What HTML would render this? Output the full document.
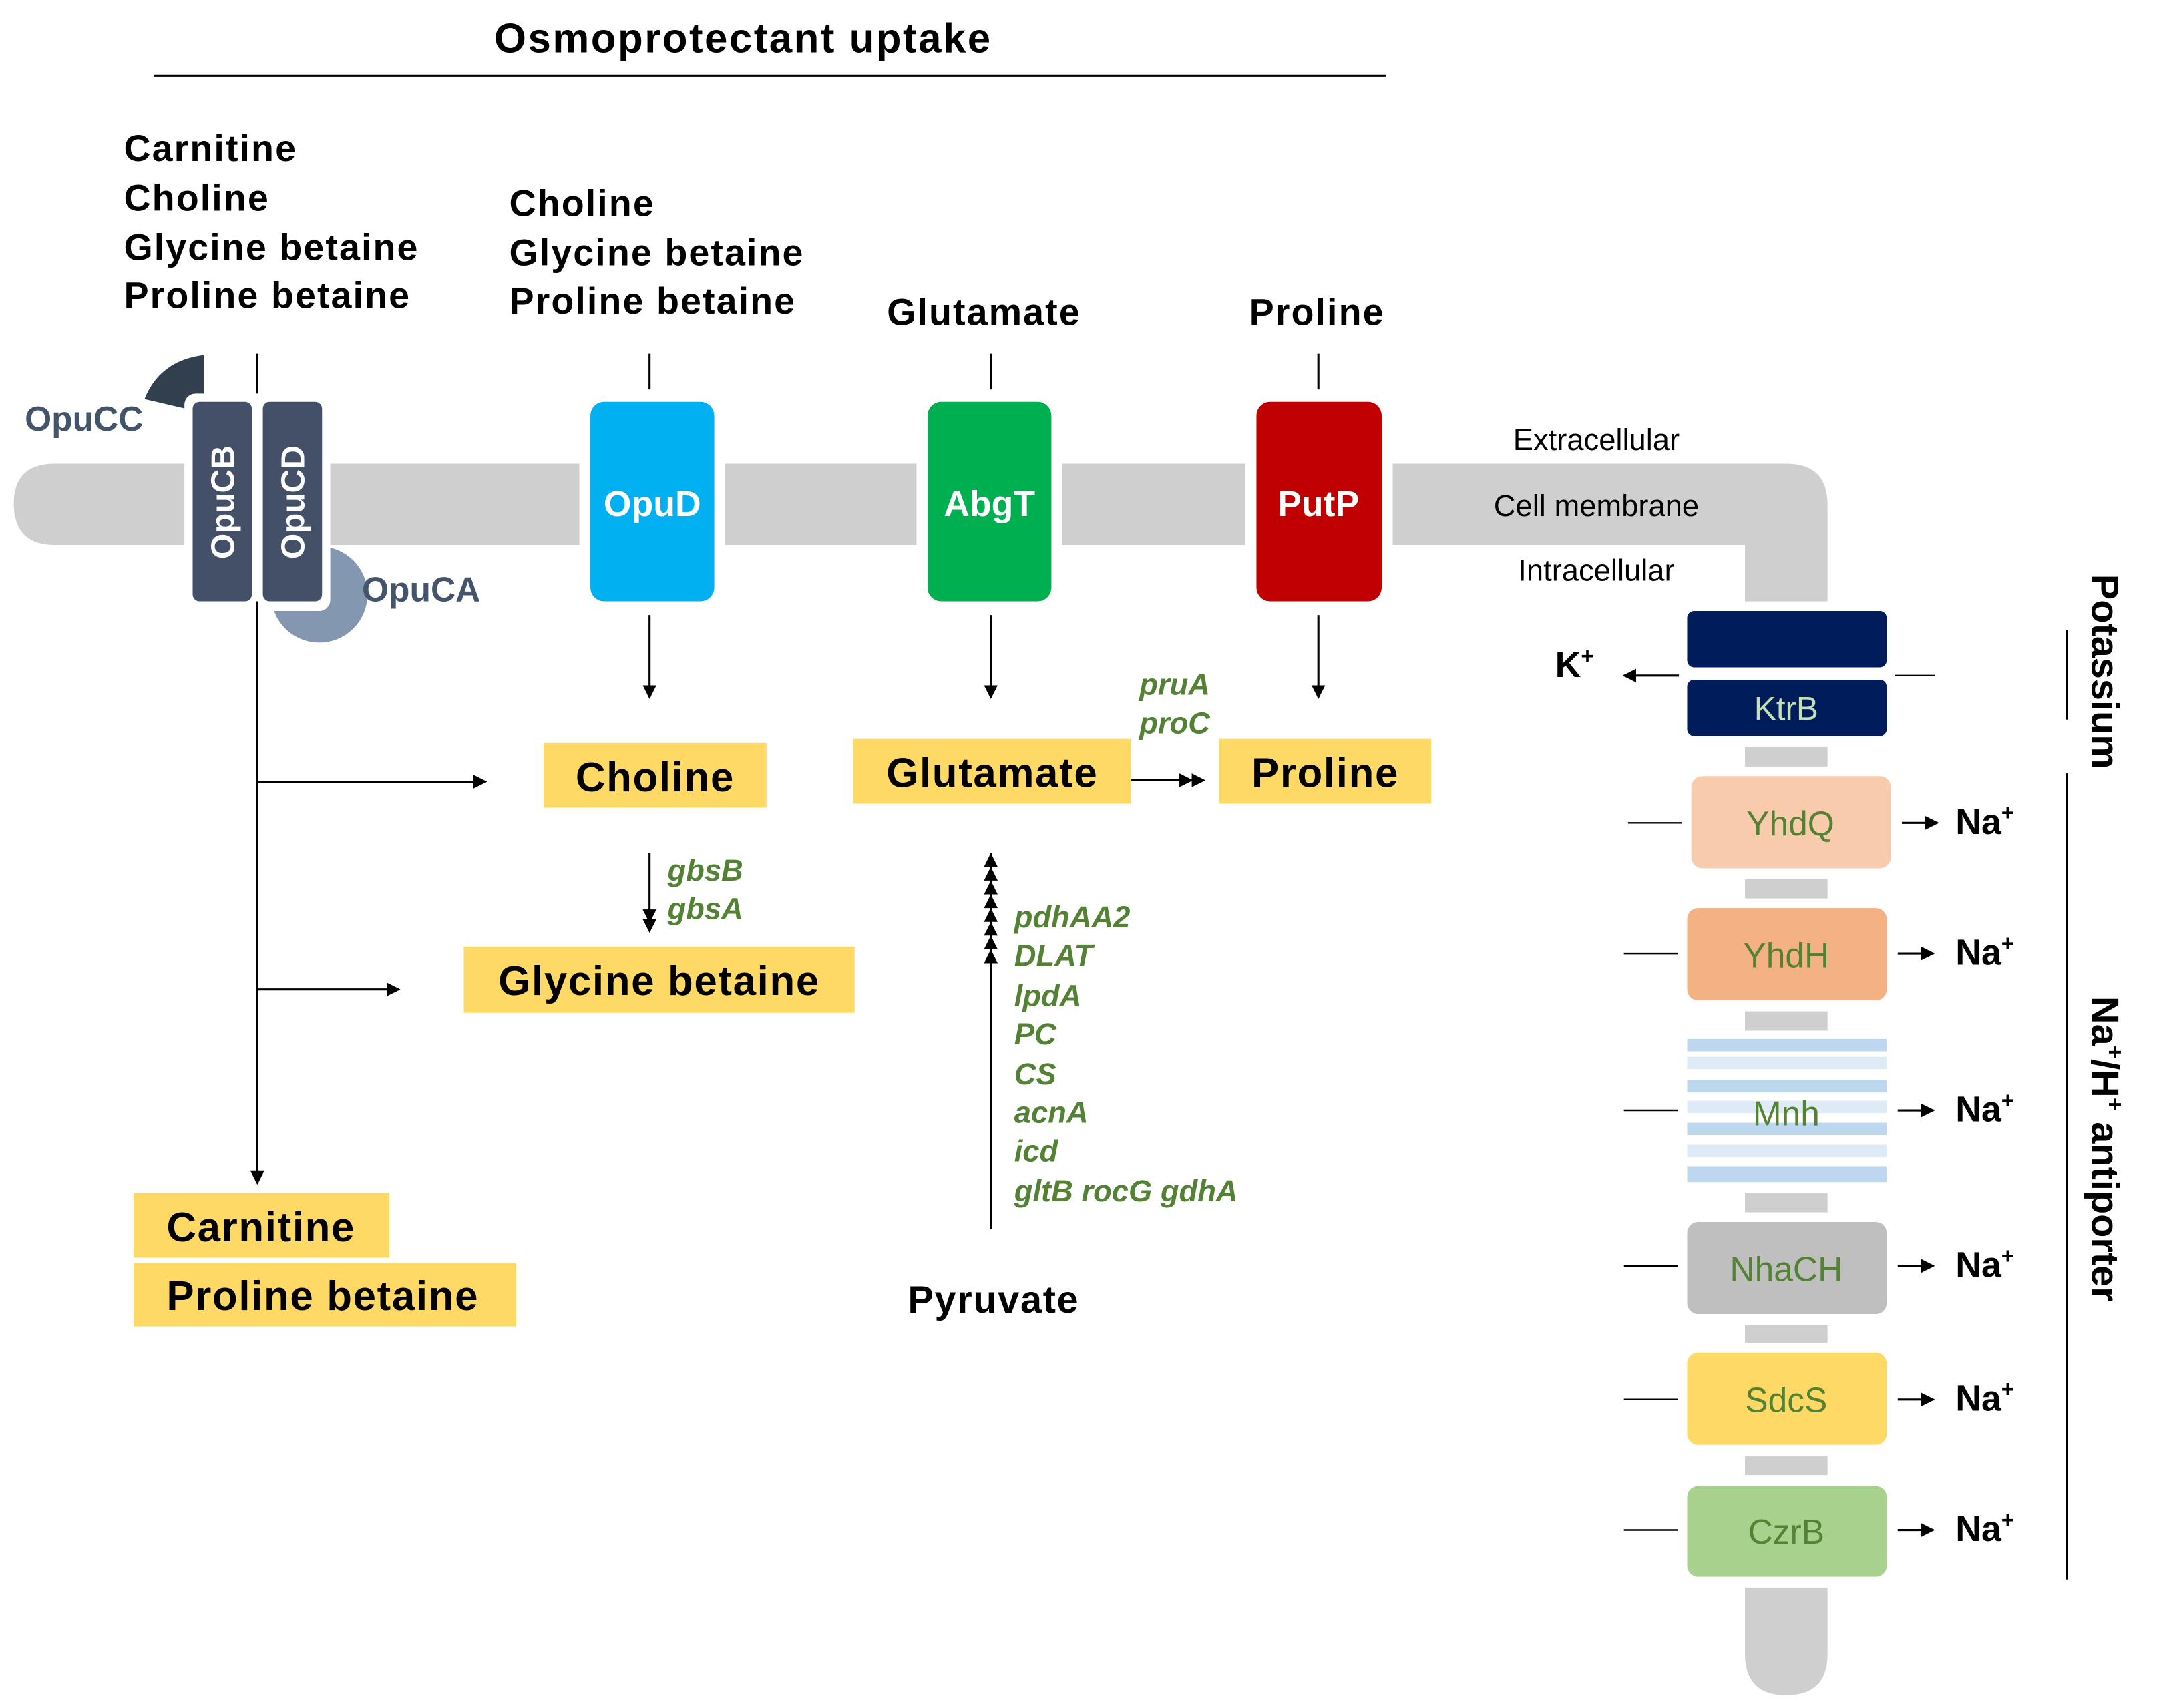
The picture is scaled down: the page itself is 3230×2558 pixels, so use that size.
<!DOCTYPE html>
<html><head><meta charset="utf-8"><style>html,body{margin:0;padding:0;background:#fff}svg{display:block}text{font-family:"Liberation Sans",Arial,sans-serif}</style></head>
<body>
<svg width="3230" height="2558" viewBox="0 0 1567.4 1241.3" xmlns="http://www.w3.org/2000/svg">
<defs>
<marker id="ah" markerWidth="10" markerHeight="10" refX="9" refY="5" orient="auto" markerUnits="userSpaceOnUse"><path d="M0,0 L10,5 L0,10 z" fill="#000"/></marker>
</defs>
<rect width="1568" height="1242" fill="#fff"/>
<text x="540" y="38" font-size="30" font-weight="bold" text-anchor="middle" letter-spacing="1.2">Osmoprotectant uptake</text>
<line x1="112" y1="55" x2="1007" y2="55" stroke="#000" stroke-width="1.5"/>
<g font-size="27" font-weight="bold" letter-spacing="1">
<text x="90" y="117">Carnitine</text><text x="90" y="153">Choline</text><text x="90" y="189">Glycine betaine</text><text x="90" y="224">Proline betaine</text>
<text x="370" y="157">Choline</text><text x="370" y="193">Glycine betaine</text><text x="370" y="228">Proline betaine</text>
<text x="715" y="236" text-anchor="middle">Glutamate</text><text x="957" y="236" text-anchor="middle">Proline</text>
</g>
<g stroke="#000" stroke-width="1.5">
<line x1="187" y1="257" x2="187" y2="290"/><line x1="472" y1="257" x2="472" y2="283"/><line x1="720" y1="257" x2="720" y2="283"/><line x1="958" y1="257" x2="958" y2="283"/>
</g>
<path d="M40,337 L1298,337 Q1328,337 1328,367 L1328,1202 Q1328,1232 1298,1232 Q1268,1232 1268,1202 L1268,396 L40,396 Q10,396 10,366 Q10,337 40,337 Z" fill="#d0cfd0"/>
<rect x="1218" y="437" width="162" height="106" fill="#fff" rx="8"/>
<rect x="1218" y="557" width="164" height="82" fill="#fff" rx="8"/>
<rect x="1218" y="653" width="162" height="82" fill="#fff" rx="8"/>
<rect x="1218" y="749" width="162" height="118" fill="#fff"/>
<rect x="1218" y="881" width="162" height="82" fill="#fff" rx="8"/>
<rect x="1218" y="976" width="162" height="82" fill="#fff" rx="8"/>
<rect x="1218" y="1072" width="162" height="82" fill="#fff" rx="8"/>
<path d="M148,300 L148,258 Q116,262 105,290 Z" fill="#323f4f"/>
<circle cx="232" cy="432" r="35" fill="#8497b0"/>
<rect x="134" y="286" width="106" height="158" fill="#fff" rx="8"/>
<rect x="140" y="292" width="43" height="145" rx="5" fill="#435068"/>
<rect x="191" y="292" width="43" height="145" rx="5" fill="#435068"/>
<text transform="translate(170,365) rotate(-90)" font-size="24" font-weight="bold" fill="#fff" text-anchor="middle">OpuCB</text>
<text transform="translate(221,365) rotate(-90)" font-size="24" font-weight="bold" fill="#fff" text-anchor="middle">OpuCD</text>
<text x="18" y="313" font-size="25" font-weight="bold" fill="#44546a">OpuCC</text>
<text x="263" y="437" font-size="25" font-weight="bold" fill="#44546a">OpuCA</text>
<rect x="421" y="286" width="106" height="158" fill="#fff" rx="12"/>
<rect x="666" y="286" width="106" height="158" fill="#fff" rx="12"/>
<rect x="905" y="286" width="107" height="158" fill="#fff" rx="12"/>
<rect x="429" y="292" width="90" height="145" rx="10" fill="#00b0f0"/>
<rect x="674" y="292" width="90" height="145" rx="10" fill="#00b050"/>
<rect x="913" y="292" width="91" height="145" rx="10" fill="#c00000"/>
<g font-size="26" font-weight="bold" fill="#fff" text-anchor="middle">
<text x="474" y="375">OpuD</text><text x="719" y="375">AbgT</text><text x="958" y="375">PutP</text>
</g>
<g font-size="22" text-anchor="middle">
<text x="1160" y="327">Extracellular</text><text x="1160" y="375">Cell membrane</text><text x="1160" y="422">Intracellular</text>
</g>
<g stroke="#000" stroke-width="1.5" fill="none">
<line x1="472" y1="447" x2="472" y2="507" marker-end="url(#ah)"/>
<line x1="720" y1="447" x2="720" y2="507" marker-end="url(#ah)"/>
<line x1="958" y1="447" x2="958" y2="507" marker-end="url(#ah)"/>
<line x1="187" y1="437" x2="187" y2="860" marker-end="url(#ah)"/>
<line x1="187" y1="568" x2="353" y2="568" marker-end="url(#ah)"/>
<line x1="187" y1="719" x2="290" y2="719" marker-end="url(#ah)"/>
<line x1="822" y1="567" x2="866" y2="567" marker-end="url(#ah)"/>
<line x1="472" y1="620" x2="472" y2="670" marker-end="url(#ah)"/>
<line x1="720" y1="893" x2="720" y2="620"/>
</g>
<path d="M866,562 L876,567 L866,572 z" fill="#000"/>
<path d="M467,668 L472,678 L477,668 z" fill="#000"/>
<g fill="#000">
<path d="M715,630 L720,620 L725,630 z"/><path d="M715,640 L720,630 L725,640 z"/><path d="M715,650 L720,640 L725,650 z"/><path d="M715,660 L720,650 L725,660 z"/><path d="M715,670 L720,660 L725,670 z"/><path d="M715,680 L720,670 L725,680 z"/><path d="M715,690 L720,680 L725,690 z"/><path d="M715,700 L720,690 L725,700 z"/>
</g>
<g fill="#ffd966">
<rect x="395" y="540" width="162" height="47"/><rect x="620" y="537" width="202" height="47"/><rect x="886" y="537" width="154" height="47"/>
<rect x="337" y="688" width="284" height="48"/><rect x="97" y="867" width="186" height="47"/><rect x="97" y="918" width="278" height="46"/>
</g>
<g font-size="30" font-weight="bold" letter-spacing="0.8">
<text x="476" y="575" text-anchor="middle">Choline</text><text x="721" y="572" text-anchor="middle">Glutamate</text><text x="963" y="572" text-anchor="middle">Proline</text>
<text x="479" y="723" text-anchor="middle">Glycine betaine</text><text x="121" y="902">Carnitine</text><text x="121" y="952">Proline betaine</text>
<text x="722" y="954" font-size="28" text-anchor="middle">Pyruvate</text>
</g>
<g font-size="22" font-weight="bold" font-style="italic" fill="#548235">
<text x="828" y="505">pruA</text><text x="828" y="533">proC</text>
<text x="485" y="640">gbsB</text><text x="485" y="668">gbsA</text>
<text x="737" y="674">pdhAA2</text><text x="737" y="702">DLAT</text><text x="737" y="731">lpdA</text><text x="737" y="759">PC</text><text x="737" y="788">CS</text><text x="737" y="816">acnA</text><text x="737" y="844">icd</text><text x="737" y="873">gltB rocG gdhA</text>
</g>
<rect x="1226" y="444" width="145" height="41" rx="5" fill="#001c5a"/>
<rect x="1226" y="494" width="145" height="41" rx="5" fill="#001c5a"/>
<text x="1298" y="523" font-size="24" fill="#c5e0b4" text-anchor="middle">KtrB</text>
<text x="1130" y="492" font-size="26" font-weight="bold">K<tspan font-size="16" dy="-10">+</tspan></text>
<line x1="1220" y1="491" x2="1180" y2="491" stroke="#000" stroke-width="1.5" marker-end="url(#ah)"/>
<line x1="1377" y1="491" x2="1406" y2="491" stroke="#000" stroke-width="1.2"/>
<rect x="1229" y="564" width="145" height="67" rx="8" fill="#f8cbad"/>
<rect x="1226" y="660" width="145" height="67" rx="8" fill="#f4b183"/>
<g>
<rect x="1226" y="755" width="145" height="9" fill="#bdd7ee"/><rect x="1226" y="768" width="145" height="9" fill="#deebf7"/>
<rect x="1226" y="785" width="145" height="9" fill="#bdd7ee"/><rect x="1226" y="800" width="145" height="9" fill="#deebf7"/>
<rect x="1226" y="816" width="145" height="9" fill="#bdd7ee"/><rect x="1226" y="832" width="145" height="9" fill="#deebf7"/>
<rect x="1226" y="848" width="145" height="11" fill="#bdd7ee"/>
</g>
<rect x="1226" y="888" width="145" height="67" rx="8" fill="#bfbfbf"/>
<rect x="1226" y="983" width="145" height="67" rx="8" fill="#ffd966"/>
<rect x="1226" y="1080" width="145" height="66" rx="8" fill="#a9d18e"/>
<g font-size="25" fill="#548235" text-anchor="middle">
<text x="1301" y="607">YhdQ</text><text x="1298" y="703">YhdH</text><text x="1298" y="818">Mnh</text><text x="1298" y="931">NhaCH</text><text x="1298" y="1026">SdcS</text><text x="1298" y="1122">CzrB</text>
</g>
<g stroke="#000" stroke-width="1.2">
<line x1="1183" y1="598" x2="1222" y2="598"/><line x1="1180" y1="693" x2="1219" y2="693"/><line x1="1180" y1="807" x2="1219" y2="807"/><line x1="1180" y1="920" x2="1219" y2="920"/><line x1="1180" y1="1017" x2="1219" y2="1017"/><line x1="1180" y1="1112" x2="1219" y2="1112"/>
</g>
<g stroke="#000" stroke-width="1.5">
<line x1="1382" y1="598" x2="1408" y2="598" marker-end="url(#ah)"/><line x1="1379" y1="693" x2="1405" y2="693" marker-end="url(#ah)"/><line x1="1379" y1="807" x2="1405" y2="807" marker-end="url(#ah)"/><line x1="1379" y1="920" x2="1405" y2="920" marker-end="url(#ah)"/><line x1="1379" y1="1017" x2="1405" y2="1017" marker-end="url(#ah)"/><line x1="1379" y1="1112" x2="1405" y2="1112" marker-end="url(#ah)"/>
</g>
<g font-size="26" font-weight="bold">
<text x="1421" y="606">Na<tspan font-size="16" dy="-10">+</tspan></text><text x="1421" y="701">Na<tspan font-size="16" dy="-10">+</tspan></text><text x="1421" y="815">Na<tspan font-size="16" dy="-10">+</tspan></text><text x="1421" y="928">Na<tspan font-size="16" dy="-10">+</tspan></text><text x="1421" y="1025">Na<tspan font-size="16" dy="-10">+</tspan></text><text x="1421" y="1120">Na<tspan font-size="16" dy="-10">+</tspan></text>
</g>
<g stroke="#000" stroke-width="1.2">
<line x1="1502" y1="458" x2="1502" y2="523"/><line x1="1502" y1="562" x2="1502" y2="1148"/>
</g>
<text transform="translate(1520,488) rotate(90)" font-size="28" font-weight="bold" text-anchor="middle">Potassium</text>
<text transform="translate(1520,835) rotate(90)" font-size="28" font-weight="bold" text-anchor="middle">Na<tspan font-size="17" dy="-11">+</tspan><tspan dy="11">/H</tspan><tspan font-size="17" dy="-11">+</tspan><tspan dy="11"> antiporter</tspan></text>
</svg>
</body></html>
